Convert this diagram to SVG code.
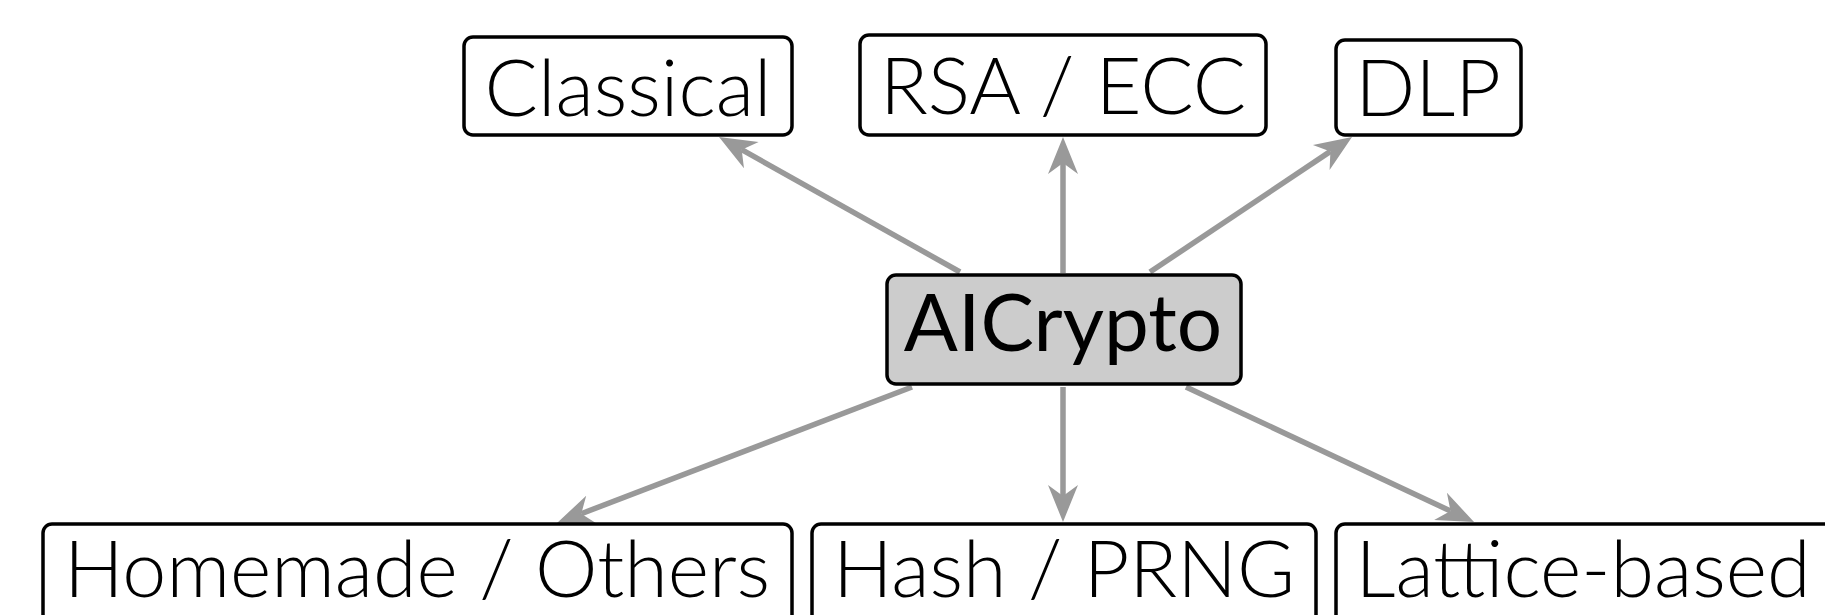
<svg xmlns="http://www.w3.org/2000/svg" width="1825" height="615" viewBox="0 0 1825 615">
<style>
.box{fill:#ffffff;stroke:#000000;stroke-width:3.5}
.root{fill:#cccccc;stroke:#000000;stroke-width:3.5}
.lbl{font-family:Lato,"Liberation Sans",sans-serif;font-weight:300;font-size:79px;fill:#000000;text-anchor:middle}
.rlbl{font-family:Lato,"Liberation Sans",sans-serif;font-weight:400;font-size:80px;fill:#000000;text-anchor:middle}
.edge{fill:none;stroke:#999999;stroke-width:5.5}
</style>
<defs>
<marker id="arr" markerUnits="userSpaceOnUse" orient="auto" refX="0" refY="0" markerWidth="60" markerHeight="40" overflow="visible">
<path d="M26,0 L-11,-15 L0,0 L-11,15 Z" fill="#999999"/>
</marker>
</defs>
<rect width="1825" height="615" fill="#ffffff"/>
<g id="connectors">
<line class="edge" x1="960" y1="272" x2="741.7" y2="149.7" marker-end="url(#arr)"/>
<line class="edge" x1="1063" y1="273" x2="1063" y2="163" marker-end="url(#arr)"/>
<line class="edge" x1="1150" y1="272" x2="1330.4" y2="151.4" marker-end="url(#arr)"/>
<line class="edge" x1="912" y1="387" x2="581.3" y2="513.7" marker-end="url(#arr)"/>
<line class="edge" x1="1063" y1="387" x2="1063" y2="496" marker-end="url(#arr)"/>
<line class="edge" x1="1186" y1="387" x2="1450.5" y2="511" marker-end="url(#arr)"/>
</g>
<g id="classical">
<rect class="box" x="464" y="37" width="328" height="98" rx="9"/>
<text class="lbl" x="628" y="116">Classical</text>
</g>
<g id="rsa-ecc">
<rect class="box" x="860" y="35" width="406" height="100" rx="9"/>
<text class="lbl" x="1063" y="114">RSA / ECC</text>
</g>
<g id="dlp">
<rect class="box" x="1336" y="40" width="185" height="95" rx="9"/>
<text class="lbl" x="1428" y="116">DLP</text>
</g>
<g id="aicrypto">
<rect class="root" x="887" y="275" width="354" height="109" rx="9"/>
<text class="rlbl" x="1063" y="351">AICrypto</text>
</g>
<g id="homemade">
<rect class="box" x="43" y="524" width="749" height="120" rx="9"/>
<text class="lbl" x="417" y="597">Homemade / Others</text>
</g>
<g id="hash-prng">
<rect class="box" x="812" y="524" width="504" height="120" rx="9"/>
<text class="lbl" x="1064" y="597">Hash / PRNG</text>
</g>
<g id="lattice">
<rect class="box" x="1336" y="524" width="500" height="120" rx="9"/>
<text class="lbl" x="1583" y="597">Lattice-based</text>
</g>
</svg>
